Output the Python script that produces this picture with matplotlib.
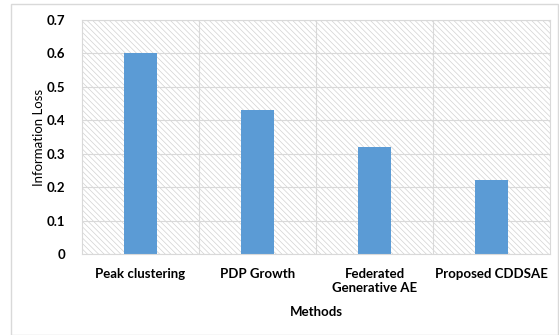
import matplotlib
matplotlib.use("Agg")
import matplotlib.pyplot as plt
from matplotlib.patches import Rectangle

methods = ["Peak clustering", "PDP Growth", "Federated\nGenerative AE", "Proposed CDDSAE"]
info_loss = [0.6, 0.43, 0.32, 0.22]
yticks = [0, 0.1, 0.2, 0.3, 0.4, 0.5, 0.6, 0.7]

plt.rcParams["font.family"] = ["Lato", "DejaVu Sans"]
plt.rcParams["hatch.linewidth"] = 0.5

fig = plt.figure(figsize=(5.59, 3.35), dpi=100)
ax = fig.add_axes([82 / 559, 1 - 254 / 335, (550 - 82) / 559, (254 - 20) / 335])

# hatched plot background
bg = Rectangle((0, 0), 1, 1, transform=ax.transAxes, facecolor="white",
               edgecolor="#d2d2d2", hatch="\\" * 6, linewidth=0, zorder=0.2)
ax.add_patch(bg)

x = range(len(methods))
ax.bar(x, info_loss, width=0.28, color="#5B9BD5", zorder=2)

ax.set_xlim(-0.5, len(methods) - 0.5)
ax.set_ylim(0, 0.7)
ax.set_yticks(yticks)
ax.set_yticklabels(["0" if v == 0 else f"{v:.1f}" for v in yticks],
                   fontsize=9.5, fontweight="bold")
ax.set_xticks(list(x))
ax.set_xticklabels(methods, fontsize=9.5, fontweight="bold", va="top", linespacing=1.25)
ax.set_xticks([0.5, 1.5, 2.5], minor=True)
ax.tick_params(axis="both", which="both", length=0)
ax.tick_params(axis="x", pad=10)
ax.tick_params(axis="y", pad=12)

ax.grid(axis="y", which="major", color="#d9d9d9", linewidth=0.8, zorder=0.5)
ax.grid(axis="x", which="minor", color="#d9d9d9", linewidth=0.8, zorder=0.5)
ax.set_axisbelow(True)
for s in ax.spines.values():
    s.set_color("#d9d9d9")
    s.set_linewidth(0.8)

ax.set_ylabel("Information Loss", fontsize=9.5, labelpad=1)
ax.set_xlabel("Methods", fontsize=9.5, fontweight="bold", labelpad=8)

# chart area frame
fig.add_artist(Rectangle((11 / 559, 0), (558 - 11) / 559, (335 - 4) / 335,
                         transform=fig.transFigure, fill=False,
                         edgecolor="#d9d9d9", linewidth=1))

fig.savefig("out.png", dpi=100)
